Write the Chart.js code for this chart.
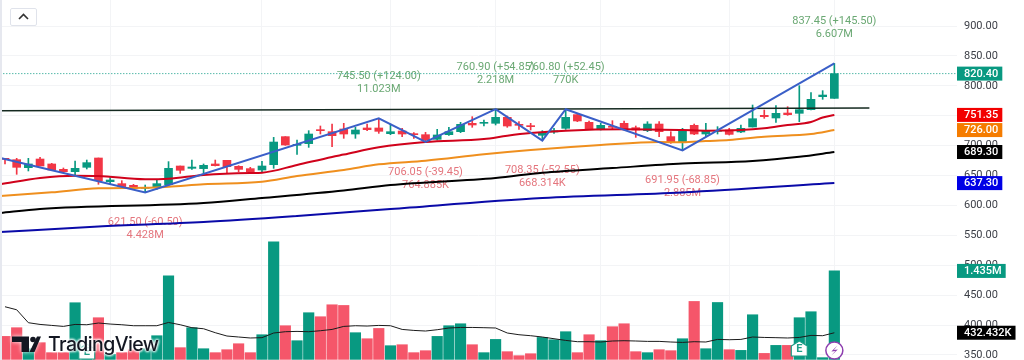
<!DOCTYPE html>
<html>
<head>
<meta charset="utf-8">
<title>Price chart</title>
<script src="https://cdn.jsdelivr.net/npm/chart.js@4/dist/chart.umd.js"></script>
<style>
  html, body { margin: 0; padding: 0; background: #fff; overflow: hidden; }
  #wrap { position: relative; width: 1024px; height: 360px; }
  #chart { display: block; }
  #strip { position: absolute; left: 0; top: 0; width: 2px; height: 360px; background: #e6e8ef; }
  #collapse { position: absolute; left: 10px; top: 8px; width: 25px; height: 16px; border: 1px solid #e0e3eb; border-radius: 2px; background: #fff; }
  #collapse svg { position: absolute; left: 7px; top: 4px; }
  #logo { position: absolute; left: 12px; top: 332px; height: 24px; display: flex; align-items: center; }
  #logo span { font: 500 19.5px Inter, Roboto, sans-serif; letter-spacing: -0.6px; color: #131722; margin-left: 7px;
    text-shadow: 0 0 3px #fff, 0 0 3px #fff, 0 0 3px #fff, 0 0 3px #fff; }
  #logo svg { filter: drop-shadow(0 0 2px #fff); }
</style>
</head>
<body>
<div id="wrap">
  <canvas id="chart" width="1024" height="360"></canvas>
  <div id="strip"></div>
  <div id="collapse"><svg width="11" height="7"><path d="M1 6 L5.5 1.5 L10 6" fill="none" stroke="#333" stroke-width="1.6"/></svg></div>
  <div id="logo">
    <svg width="29" height="16" viewBox="0 0 29 16"><path d="M0 0.5H17V16H9.5V6H0Z M25 0.5H29L22.5 16H17.5Z" fill="#131722"/><circle cx="21" cy="3.5" r="2.8" fill="#131722"/></svg>
    <span>TradingView</span>
  </div>
</div>
<script>
  const opens = [678.7, 676.5, 663.1, 677.6, 669.3, 660.3, 656.4, 663.7, 679.3, 639.7, 636.4, 633.6, 628.6, 630.2, 634.7, 665.9, 662, 661.5, 669.3, 675.4, 665.4, 661.5, 659.2, 668.1, 715, 700.5, 703.3, 726.1, 723.3, 727.8, 719.4, 729.5, 729.5, 720, 724.4, 719.4, 718.3, 710.5, 718.3, 723.3, 737.3, 737.3, 737.3, 747.3, 735.6, 733.4, 717.2, 722.8, 728.9, 751.8, 738.9, 727.8, 731.7, 737.3, 730, 725, 736.1, 715, 706.6, 733.9, 719.4, 723.9, 726.1, 722.8, 731.1, 750.6, 746.2, 754.5, 754, 760.1, 781.8, 779];
  const highs = [678.7, 678.7, 678.7, 680.4, 670.4, 662.6, 674.3, 675.9, 679.3, 646.4, 641.4, 635.3, 634.1, 642.5, 673.2, 665.9, 675.9, 669.3, 675.9, 675.4, 666.5, 663.7, 673.7, 713.8, 715, 709.4, 725, 732.8, 736.1, 737.3, 730.6, 736.1, 745.5, 736.1, 728.9, 721.7, 722.2, 727.2, 730.6, 738.9, 748.4, 742.8, 760.9, 749.5, 740, 737.3, 725, 728.9, 760.8, 752.9, 741.2, 737.3, 741.7, 741.2, 732.8, 740, 740, 723.3, 728.9, 736.1, 737.2, 731.7, 728.9, 734.5, 767.9, 759.5, 766.8, 765.1, 800.2, 788.5, 791.9, 837.45];
  const lows = [669.3, 652, 657.6, 665.9, 659.2, 654.8, 649.2, 660.9, 635.3, 635.8, 628.6, 626.9, 621.5, 626.9, 632.5, 653.6, 660.3, 653.6, 665.9, 654.8, 656.4, 654.8, 656.4, 662, 700.5, 685.4, 697.1, 719.4, 698.2, 712.2, 712.2, 725, 720.5, 718.3, 715, 712.2, 706.05, 709.4, 717.2, 721.7, 730.6, 732.8, 734.5, 730.6, 727.2, 726.1, 708.35, 720.5, 727.2, 740, 727.2, 726.1, 727.2, 726.1, 713.8, 723.3, 715, 703.8, 691.95, 718.3, 714.9, 719.4, 717.7, 721.6, 731.1, 745.6, 738.9, 750.6, 740, 759.5, 777.4, 779];
  const closes = [677.1, 663.7, 669.3, 665.9, 659.2, 656.4, 662, 671.5, 641.4, 642.5, 631.4, 628.6, 630.2, 636.4, 662, 658.7, 664.2, 667, 666.5, 664.8, 660.3, 656.4, 665.9, 706, 701, 702.1, 719.4, 725, 716.6, 719.4, 726.1, 726.7, 723.9, 723.3, 719.4, 718.3, 709.4, 717.8, 723.3, 735.6, 734.5, 738.4, 747.3, 732.8, 733.9, 731.7, 722.2, 725, 747.3, 741.2, 727.8, 733.9, 730.6, 727.8, 726.1, 736.1, 723.3, 705.5, 725, 719.4, 724.4, 725, 718.8, 728.9, 745, 748.4, 754, 751.7, 760.1, 777.4, 784.6, 820.4];

  // volume in thousands
  const volumes = [373, 514, 173, 271, 109, 109, 919, 173, 676, 81, 109, 157, 173, 384, 1356, 190, 514, 173, 109, 157, 254, 109, 400, 1907, 546, 303, 757, 692, 886, 875, 433, 335, 502, 222, 238, 109, 141, 373, 546, 578, 238, 109, 324, 125, 60, 92, 356, 319, 449, 109, 400, 303, 530, 578, 125, 109, 157, 141, 335, 940, 173, 923, 157, 146, 724, 97, 227, 227, 676, 773, 28, 1435];
  const volumeAvg = [854, 805, 595, 567, 551, 535, 567, 562, 590, 573, 562, 546, 546, 546, 599, 562, 514, 497, 433, 379, 363, 347, 352, 428, 449, 454, 449, 465, 486, 535, 546, 541, 551, 546, 486, 470, 460, 481, 509, 518, 518, 514, 509, 428, 400, 384, 363, 335, 308, 287, 287, 282, 298, 303, 298, 292, 292, 282, 275, 287, 282, 324, 319, 324, 363, 356, 352, 347, 356, 389, 384, 432];

  const redAvgIdx = [-0.4, 3, 6, 8, 12, 14, 17, 21, 22, 25, 28, 29, 32, 36, 41, 43, 45, 48, 53, 58, 60, 63, 65, 67, 69, 70, 71];
  const redAvg = [635.3, 645.8, 649.7, 649.2, 643.6, 644.6, 650.8, 654.2, 654.7, 667.6, 681, 685, 697.2, 706, 711, 716.6, 721, 725, 727.3, 726, 725, 726, 729, 734.5, 739.5, 747, 751.35];
  const orangeAvgIdx = [-0.4, 4, 8, 12, 14, 17, 22, 25, 29, 32, 36, 41, 45, 51, 56, 58, 60, 62, 65, 69, 71];
  const orangeAvg = [615.7, 621.9, 628.6, 629.6, 631.3, 635.3, 639.6, 649.2, 659.2, 668.7, 674.8, 685.5, 692.6, 701, 706, 705.5, 707.7, 709.4, 714.9, 719.4, 726];
  const blackAvgIdx = [-0.4, 3, 17, 22, 29, 33, 42, 46, 52, 58, 64, 68, 71];
  const blackAvg = [587.3, 594, 604, 612.4, 625, 634.1, 645.8, 654.7, 662.5, 670, 674.3, 681.4, 689.3];
  const blueAvgIdx = [-0.4, 8, 17, 25, 33, 46, 58, 71];
  const blueAvg = [555.5, 564.7, 572.2, 582.3, 594, 612.4, 621.6, 637.3];

  const zigzagIdx = [-0.3, 12, 32, 36, 42, 46, 48, 58, 71];
  const zigzagPrice = [679, 621.5, 745.5, 706.05, 760.9, 708.35, 760.8, 691.95, 837.45];
  const levelIdx = [-0.4, 74];
  const levelPrice = [758.4, 762.9];
  const lastPriceIdx = [-0.4, 81.5];
  const lastPrice = [820.4, 820.4];

  const priceTicks = [350, 400, 450, 500, 550, 600, 650, 700, 750, 800, 850, 900];
  const gridIdx = [9, 22, 33, 42, 51, 62, 71];

  const pivotIdx = [12, 32, 36, 42, 46, 48, 58, 71];
  const pivotPrice = [621.5, 745.5, 706.05, 760.9, 708.35, 760.8, 691.95, 837.45];
  const pivotChange = ['(-60.50)', '(+124.00)', '(-39.45)', '(+54.85)', '(-52.55)', '(+52.45)', '(-68.85)', '(+145.50)'];
  const pivotVolume = ['4.428M', '11.023M', '764.885K', '2.218M', '668.314K', '770K', '2.885M', '6.607M'];

  const tagValues = [820.4, 751.35, 726, 689.3, 637.3];
  const tagLabels = ['820.40', '751.35', '726.00', '689.30', '637.30'];
  const tagColors = ['#089981', '#f20000', '#f57c00', '#000000', '#0000e6'];
  const volumeTagValues = [1435, 432.432];
  const volumeTagLabels = ['1.435M', '432.432K'];
  const volumeTagColors = ['#089981', '#000000'];

  const earningsIdx = [7, 68];
  const dividendIdx = [71];

  const UP = '#089981';
  const DOWN = '#f23645';
  const VOL_DOWN = '#f5566a';
  const LABEL_FONT = "11px Roboto, sans-serif";

  const isUp = closes.map((c, i) => c >= opens[i]);

  function points(xs, ys) {
    return xs.map((x, i) => ({ x, y: ys[i] }));
  }

  function avgLine(xs, ys, color, width) {
    return {
      type: 'line',
      data: points(xs, ys),
      borderColor: color,
      borderWidth: width,
      pointRadius: 0,
      cubicInterpolationMode: 'monotone',
      yAxisID: 'y',
      order: 2
    };
  }

  const pivotLabels = {
    id: 'pivotLabels',
    beforeDatasetsDraw(chart) {
      const { ctx, scales } = chart;
      ctx.save();
      ctx.font = LABEL_FONT;
      ctx.textAlign = 'center';
      ctx.textBaseline = 'middle';
      pivotIdx.forEach((idx, i) => {
        const up = pivotChange[i].charAt(1) === '+';
        const x = scales.x.getPixelForValue(idx);
        const y = scales.y.getPixelForValue(pivotPrice[i]);
        const top = up ? y - 42 : y + 30;
        ctx.fillStyle = up ? '#6aa873' : '#e4757d';
        ctx.fillText(`${pivotPrice[i].toFixed(2)} ${pivotChange[i]}`, x, top);
        ctx.fillText(pivotVolume[i], x, top + 13);
      });
      ctx.restore();
    }
  };

  function drawTag(ctx, left, y, text, color) {
    const w = ctx.measureText(text).width + 11;
    ctx.fillStyle = color;
    ctx.fillRect(left, y - 7, w, 14);
    ctx.fillStyle = '#fff';
    ctx.fillText(text, left + 7, y + 0.5);
  }

  const priceTags = {
    id: 'priceTags',
    afterDraw(chart) {
      const { ctx, scales, chartArea } = chart;
      ctx.save();
      ctx.font = "500 11px Roboto, sans-serif";
      ctx.textAlign = 'left';
      ctx.textBaseline = 'middle';
      tagValues.forEach((v, i) => drawTag(ctx, chartArea.right, scales.y.getPixelForValue(v), tagLabels[i], tagColors[i]));
      volumeTagValues.forEach((v, i) => drawTag(ctx, chartArea.right, scales.yVol.getPixelForValue(v), volumeTagLabels[i], volumeTagColors[i]));

      // event badges under the volume bars
      earningsIdx.forEach((idx) => {
        const x = scales.x.getPixelForValue(idx);
        const y = idx < 20 ? 352 : 349;
        ctx.beginPath();
        ctx.moveTo(x, y - 8);
        ctx.lineTo(x + 8, y - 3);
        ctx.lineTo(x + 8, y + 7);
        ctx.lineTo(x - 8, y + 7);
        ctx.lineTo(x - 8, y - 3);
        ctx.closePath();
        ctx.fillStyle = '#fff';
        ctx.fill();
        ctx.strokeStyle = '#1f9e88';
        ctx.lineWidth = 1.2;
        ctx.stroke();
        ctx.fillStyle = '#1f9e88';
        ctx.textAlign = 'center';
        ctx.font = "bold 11px Roboto, sans-serif";
        ctx.fillText('E', x, y);
      });
      dividendIdx.forEach((idx) => {
        const x = scales.x.getPixelForValue(idx);
        const y = 350.5;
        ctx.beginPath();
        ctx.arc(x, y, 8.5, 0, Math.PI * 2);
        ctx.fillStyle = '#fff';
        ctx.fill();
        ctx.strokeStyle = '#8e3fb0';
        ctx.lineWidth = 1.5;
        ctx.stroke();
        ctx.beginPath();
        ctx.moveTo(x + 3, y - 5);
        ctx.lineTo(x - 3, y + 1);
        ctx.lineTo(x + 1, y + 0.5);
        ctx.lineTo(x - 3, y + 5);
        ctx.lineTo(x + 3.5, y - 1);
        ctx.lineTo(x - 0.5, y - 0.5);
        ctx.closePath();
        ctx.fillStyle = '#8e3fb0';
        ctx.fill();
      });
      ctx.restore();
    }
  };

  new Chart(document.getElementById('chart'), {
    data: {
      datasets: [
        {
          type: 'bar',
          data: volumes.map((v, i) => ({ x: i, y: v })),
          backgroundColor: isUp.map((up) => (up ? UP : VOL_DOWN)),
          barThickness: 10.5,
          grouped: false,
          yAxisID: 'yVol',
          order: 10
        },
        {
          type: 'line',
          data: volumeAvg.map((v, i) => ({ x: i, y: v })),
          borderColor: '#1b1b1b',
          borderWidth: 1,
          pointRadius: 0,
          yAxisID: 'yVol',
          order: 9
        },
        {
          type: 'line',
          data: points(lastPriceIdx, lastPrice),
          borderColor: '#089981',
          borderWidth: 1,
          borderDash: [1, 2],
          pointRadius: 0,
          yAxisID: 'y',
          order: 8
        },
        {
          type: 'bar',
          data: highs.map((h, i) => ({ x: i, y: [lows[i], h] })),
          backgroundColor: isUp.map((up) => (up ? UP : DOWN)),
          barThickness: 1,
          grouped: false,
          yAxisID: 'y',
          order: 7
        },
        {
          type: 'bar',
          data: opens.map((o, i) => ({ x: i, y: [o, closes[i]] })),
          backgroundColor: isUp.map((up) => (up ? UP : DOWN)),
          barThickness: 8,
          grouped: false,
          minBarLength: 1,
          yAxisID: 'y',
          order: 6
        },
        avgLine(redAvgIdx, redAvg, '#d0021b', 2),
        avgLine(orangeAvgIdx, orangeAvg, '#ef8f1e', 2),
        avgLine(blackAvgIdx, blackAvg, '#000000', 2),
        avgLine(blueAvgIdx, blueAvg, '#0a0aa8', 2),
        {
          type: 'line',
          data: points(levelIdx, levelPrice),
          borderColor: '#14291f',
          borderWidth: 1.5,
          pointRadius: 0,
          yAxisID: 'y',
          order: 3
        },
        {
          type: 'line',
          data: points(zigzagIdx, zigzagPrice),
          borderColor: '#3a5fc8',
          borderWidth: 2,
          pointRadius: 0,
          yAxisID: 'y',
          order: 1
        }
      ]
    },
    options: {
      responsive: false,
      animation: false,
      parsing: { xAxisKey: 'x', yAxisKey: 'y' },
      layout: { padding: 0, autoPadding: false },
      plugins: { legend: { display: false }, tooltip: { enabled: false } },
      scales: {
        x: {
          type: 'linear',
          offset: false,
          min: -0.428,
          max: 81.5,
          afterBuildTicks(scale) {
            scale.ticks = gridIdx.map((value) => ({ value }));
          },
          afterFit(scale) {
            scale.height = 0;
          },
          ticks: { display: false },
          border: { display: false },
          grid: { color: '#f3f4f6', tickLength: 0, offset: false }
        },
        y: {
          position: 'right',
          offset: false,
          min: 341.5,
          max: 943.5,
          afterBuildTicks(scale) {
            scale.ticks = priceTicks.map((value) => ({ value }));
          },
          afterFit(scale) {
            scale.width = 67;
            // the top and bottom labels must not pull the plot in
            scale.paddingTop = 0;
            scale.paddingBottom = 0;
          },
          ticks: {
            color: '#3c3f47',
            font: { family: 'Roboto, sans-serif', size: 11 },
            padding: 7,
            callback(value) {
              return value.toFixed(2);
            }
          },
          border: { display: false },
          grid: { color: '#f3f4f6', tickLength: 0, offset: false }
        },
        yVol: {
          display: false,
          position: 'right',
          offset: false,
          min: -10,
          max: 5830
        }
      }
    },
    plugins: [pivotLabels, priceTags]
  });
</script>
</body>
</html>
